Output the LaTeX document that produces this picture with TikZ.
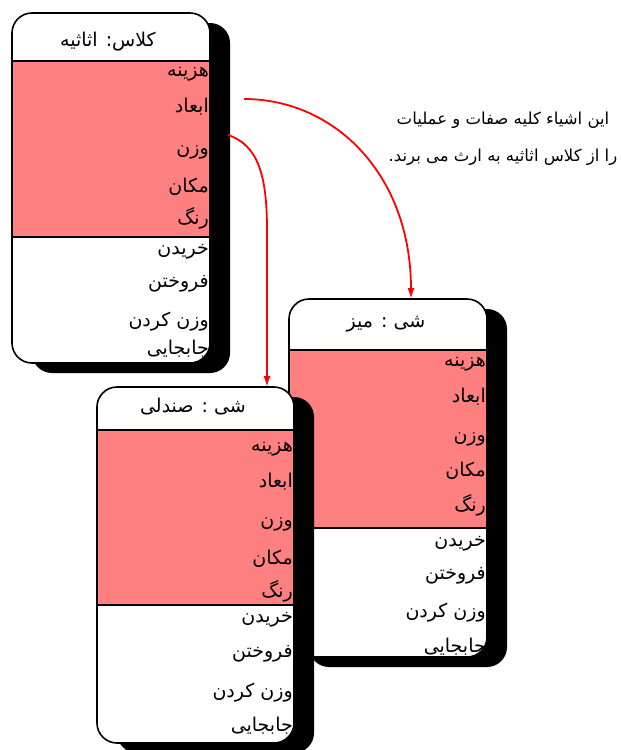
\documentclass[tikz,border=0pt]{standalone}
\usepackage{fontspec}
\newfontfamily\arabicfont[Script=Arabic]{DejaVu Sans}
\TeXXeTstate=1
\usetikzlibrary{arrows.meta}
\definecolor{attrred}{HTML}{FF8080}
\newcommand\fa[1]{{\arabicfont\beginR #1\endR}}
\tikzset{
  boxline/.style={line width=1.6pt},
  rowtext/.style={anchor=east, inner sep=0pt, font=\fontsize{19}{22}\selectfont, text height=13pt, text depth=5pt},
  titletext/.style={anchor=center, inner sep=0pt, font=\fontsize{19}{22}\selectfont, text height=13pt, text depth=5pt},
  inherit/.style={red, line width=1.8pt, -{Latex[length=11pt,width=7pt]}}
}
% #1 name, #2 left, #3 top, #4 right, #5 bottom, #6 sep1, #7 sep2
\newcommand\furnbox[7]{%
  \fill[rounded corners=20pt] (#2+20,#3+10) rectangle (#4+20,#5+10);
  \node[name=#1, fill=white, rounded corners=20pt, inner sep=0pt, outer sep=0pt, anchor=north west,
        minimum width={(#4-#2)*1pt}, minimum height={(#5-#3)*1pt}] at (#2,#3) {};
  \begin{scope}
    \clip[rounded corners=20pt] (#2,#3) rectangle (#4,#5);
    \fill[attrred] (#2,#6) rectangle (#4,#7);
  \end{scope}
  \draw[boxline] (#2,#6) -- (#4,#6) (#2,#7) -- (#4,#7);
  \draw[boxline, rounded corners=20pt] (#2,#3) rectangle (#4,#5);
}
\begin{document}
\begin{tikzpicture}[x=1pt, y=-1pt]
\useasboundingbox (0,0) rectangle (621,750);
% class box
\furnbox{cls}{12}{13}{210}{363}{61}{237}
\node[titletext] (clsT) at (108,42) {\fa{کلاس: اثاثیه}};
\foreach \y/\t [count=\i] in {72/هزینه,108/ابعاد,150/وزن,188/مکان,220/رنگ,250/خریدن,283/فروختن,322/وزن کردن,350/جابجایی}
  \node[rowtext] (clsR\i) at (209,\y) {\fa{\t}};
% table object
\furnbox{tbl}{289}{299}{487}{657}{350}{528}
\node[titletext] (tblT) at (386,323) {\fa{شی : میز}};
\foreach \y/\t [count=\i] in {362/هزینه,398/ابعاد,437/وزن,472/مکان,507/رنگ,542/خریدن,575/فروختن,613/وزن کردن,648/جابجایی}
  \node[rowtext] (tblR\i) at (486,\y) {\fa{\t}};
% chair object
\furnbox{chr}{97}{387}{294}{743}{430}{605}
\node[titletext] (chrT) at (193,408) {\fa{شی : صندلی}};
\foreach \y/\t [count=\i] in {447/هزینه,483/ابعاد,522/وزن,560/مکان,593/رنگ,618/خریدن,653/فروختن,693/وزن کردن,727/جابجایی}
  \node[rowtext] (chrR\i) at (293,\y) {\fa{\t}};
% note
\node[align=center, inner sep=0pt, font=\fontsize{16.5}{37}\selectfont] (note) at (503,139)
  {\fa{این اشیاء کلیه صفات و عملیات}\\\fa{را از کلاس اثاثیه به ارث می برند.}};
% arrows
\coordinate (s1) at (244,99);
\coordinate (e1) at (411,299);
\coordinate (s2) at (228,135);
\coordinate (m2) at (267,230);
\coordinate (e2) at (267,387);
\draw[inherit] (s1) .. controls (335,99) and (411,175) .. (e1);
\draw[inherit] (s2) .. controls (258,145) and (267,175) .. (m2) -- (e2);
\end{tikzpicture}
\end{document}
